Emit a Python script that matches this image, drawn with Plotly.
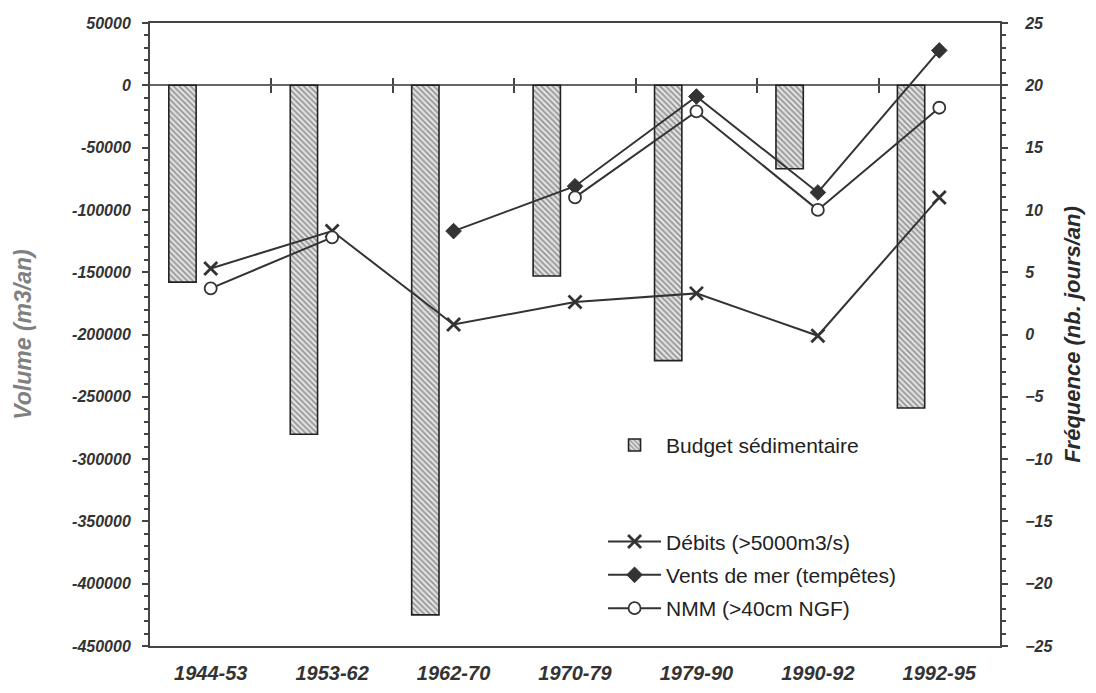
import plotly.graph_objects as go

categories = ["1944-53", "1953-62", "1962-70", "1970-79", "1979-90", "1990-92", "1992-95"]
budget = [-158000, -280000, -425000, -153000, -221000, -67000, -259000]
debits = [5.3, 8.3, 0.8, 2.6, 3.3, -0.1, 11.0]
vents = [None, None, 8.3, 11.9, 19.1, 11.4, 22.8]
nmm = [3.7, 7.8, None, 11.0, 17.9, 10.0, 18.2]

left_ticks = [50000, 0, -50000, -100000, -150000, -200000, -250000, -300000, -350000, -400000, -450000]
right_ticks = [25, 20, 15, 10, 5, 0, -5, -10, -15, -20, -25]

TXT = "#333333"
LINE = "#333333"
AX = "#444444"
FONT = "Liberation Sans, Arial, sans-serif"

boundaries = [i + 0.5 for i in range(len(categories) - 1)]

fig = go.Figure()

fig.add_trace(go.Bar(
    x=categories, y=budget, name="Budget sédimentaire",
    offset=-0.345, width=0.225,
    marker=dict(color="#d9d9d9",
                line=dict(color="#222222", width=1.6),
                pattern=dict(shape="\\", fgcolor="#444444", bgcolor="#e2e2e2",
                             size=4, solidity=0.42)),
    legend="legend", yaxis="y", xaxis="x", showlegend=True,
))

fig.add_trace(go.Scatter(
    x=categories, y=debits, name="Débits (>5000m3/s)", mode="lines+markers",
    line=dict(color=LINE, width=2),
    marker=dict(symbol="x-thin-open", size=13, line=dict(color=LINE, width=2.8), color=LINE),
    yaxis="y2", legend="legend2", legendgroup="a",
))
fig.add_trace(go.Scatter(
    x=categories, y=vents, name="Vents de mer (tempêtes)", mode="lines+markers",
    line=dict(color=LINE, width=2),
    marker=dict(symbol="diamond", size=12, color=LINE, line=dict(color=LINE, width=1)),
    yaxis="y2", legend="legend2", legendgroup="b",
))
fig.add_trace(go.Scatter(
    x=categories, y=nmm, name="NMM (>40cm NGF)", mode="lines+markers",
    line=dict(color=LINE, width=2), connectgaps=False,
    marker=dict(symbol="circle", size=12, color="white", line=dict(color=LINE, width=1.8)),
    yaxis="y2", legend="legend2", legendgroup="c",
))

# invisible helpers so the boundary-tick axes on the zero line are drawn
for ax in ("x3", "x4"):
    fig.add_trace(go.Scatter(
        x=boundaries, y=[0] * len(boundaries), xaxis=ax, yaxis="y",
        mode="markers", marker=dict(opacity=0), showlegend=False, hoverinfo="skip",
    ))

ytickfont = dict(family=FONT, size=16, color=TXT, weight="bold", style="italic")
xtickfont = dict(family=FONT, size=20, color=TXT, weight="bold", style="italic")

zero_pos = (0 - (-450000)) / (50000 - (-450000))

fig.update_layout(
    width=1096, height=693,
    margin=dict(l=150, r=96, t=23, b=47, autoexpand=False),
    plot_bgcolor="white", paper_bgcolor="white",
    barmode="overlay", showlegend=True,
    font=dict(family=FONT, color=TXT),
    xaxis=dict(
        type="category", range=[-0.5, 6.5], automargin=False,
        showline=True, linecolor=AX, linewidth=2, mirror=True,
        showgrid=False, ticks="outside", ticklen=8, tickcolor="rgba(0,0,0,0)",
        tickfont=xtickfont,
    ),
    xaxis3=dict(
        overlaying="x", anchor="free", position=zero_pos, side="bottom", automargin=False,
        range=[-0.5, 6.5], tickvals=boundaries, showticklabels=False,
        ticks="outside", ticklen=7, tickwidth=2, tickcolor=AX,
        showgrid=False, showline=False, zeroline=False,
    ),
    xaxis4=dict(
        overlaying="x", anchor="free", position=zero_pos, side="top", automargin=False,
        range=[-0.5, 6.5], tickvals=boundaries, showticklabels=False,
        ticks="outside", ticklen=7, tickwidth=2, tickcolor=AX,
        showgrid=False, showline=False, zeroline=False,
    ),
    yaxis=dict(
        range=[-450000, 50000], tickvals=left_ticks, ticktext=[str(v) for v in left_ticks],
        automargin=False,
        showline=True, linecolor=AX, linewidth=2,
        showgrid=False, zeroline=True, zerolinecolor="#666666", zerolinewidth=2,
        ticks="outside", ticklen=6, tickwidth=2, tickcolor=AX,
        minor=dict(dtick=10000, ticks="outside", ticklen=4, tickwidth=1.5, tickcolor=AX, showgrid=False),
        ticklabelstandoff=8,
        tickfont=ytickfont,
        title=dict(text="Volume (m3/an)", standoff=34,
                   font=dict(family=FONT, size=23, color="#808080", weight="bold", style="italic")),
    ),
    yaxis2=dict(
        overlaying="y", side="right", range=[-25, 25], tickvals=right_ticks,
        automargin=False,
        showline=True, linecolor=AX, linewidth=2,
        showgrid=False, zeroline=False,
        ticks="outside", ticklen=6, tickwidth=2, tickcolor=AX,
        minor=dict(dtick=1, ticks="outside", ticklen=4, tickwidth=1.5, tickcolor=AX, showgrid=False),
        ticklabelstandoff=14,
        tickfont=ytickfont,
        title=dict(text="Fréquence (nb. jours/an)", standoff=12,
                   font=dict(family=FONT, size=22, color="#2a2a2a", weight="bold", style="italic")),
    ),
    legend=dict(
        x=0.533, y=0.355, xanchor="left", yanchor="top",
        bgcolor="rgba(0,0,0,0)", font=dict(family=FONT, size=21, color="#222222"),
        itemwidth=53,
    ),
    legend2=dict(
        x=0.533, y=0.2, xanchor="left", yanchor="top",
        bgcolor="rgba(0,0,0,0)", font=dict(family=FONT, size=21, color="#222222"),
        tracegroupgap=3, itemwidth=53,
    ),
)

fig.write_html("out.html", config={"displayModeBar": False},
               post_script="document.body.style.margin='0px';")
